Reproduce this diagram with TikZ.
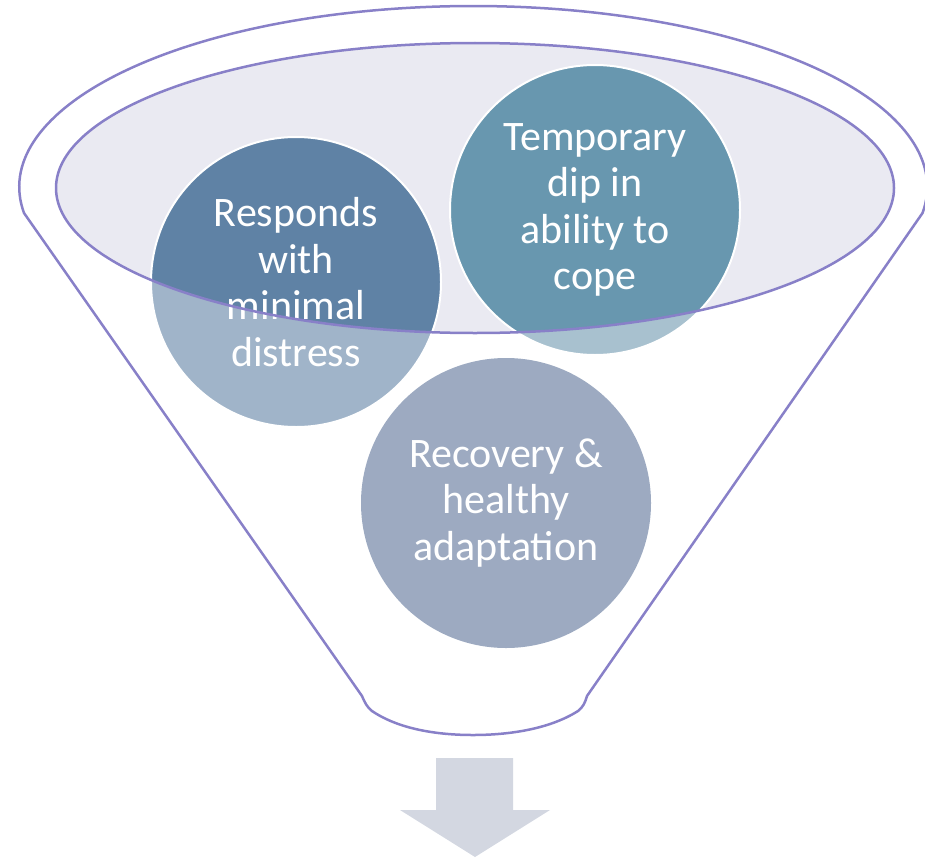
\documentclass[tikz,border=0pt]{standalone}
\usepackage{fontspec}
\setmainfont{Carlito}

\definecolor{funnelline}{HTML}{8880C8}
\definecolor{rimfill}{HTML}{EAEAF2}
\definecolor{respdark}{HTML}{5F82A5}
\definecolor{resplight}{HTML}{A0B4C9}
\definecolor{dipdark}{HTML}{6897AF}
\definecolor{diplight}{HTML}{A8C1CF}
\definecolor{recovfill}{HTML}{9DAAC1}
\definecolor{arrowgray}{HTML}{D3D7E1}

\begin{document}
\begin{tikzpicture}[
  x=1pt,y=1pt,
  rimline/.style={draw=funnelline,line width=2.5pt},
  bubble/.style={circle,minimum size=290pt,inner sep=0pt,draw=white,line width=2pt,
    text=white,align=center,font=\fontsize{42}{46.5}\selectfont},
  % part of a bubble that sits inside the rim gets the darker shade
  inrim/.style={path picture={\fill[#1] (rim) ellipse[x radius=419,y radius=145];}},
]
  \useasboundingbox (0,0) rectangle (925,-859);
  \coordinate (rim) at (475,-188);

  % Funnel body
  \draw[rimline] (24,-213) arc[start angle=188.26,end angle=-8.26,x radius=454,y radius=181]
    -- (587,-696) .. controls (585,-703) and (583,-707) .. (578,-711)
    .. controls (548,-730) and (506,-735) .. (473,-735)
    .. controls (440,-735) and (400,-730) .. (372,-711)
    .. controls (367,-707) and (365,-703) .. (362,-696) -- cycle;

  % Rim
  \fill[rimfill] (rim) ellipse[x radius=419,y radius=145];

  % Bubbles
  \node[bubble,fill=resplight,inrim=respdark] (responds) at (296,-282)
    {Responds\\with\\minimal\\distress};
  \node[bubble,fill=diplight,inrim=dipdark] (dip) at (595,-210)
    {Temporary\\dip in\\ability to\\cope};
  \node[bubble,fill=recovfill,draw=none] (recovery) at (506,-503)
    {Recovery \&\\healthy\\adaptation};

  % Rim outline on top
  \draw[rimline] (rim) ellipse[x radius=419,y radius=145];

  % Output arrow
  \fill[arrowgray] (436,-758) -- (513,-758) -- (513,-810) -- (550,-810)
    -- (475,-857) -- (400,-810) -- (436,-810) -- cycle;
\end{tikzpicture}
\end{document}
